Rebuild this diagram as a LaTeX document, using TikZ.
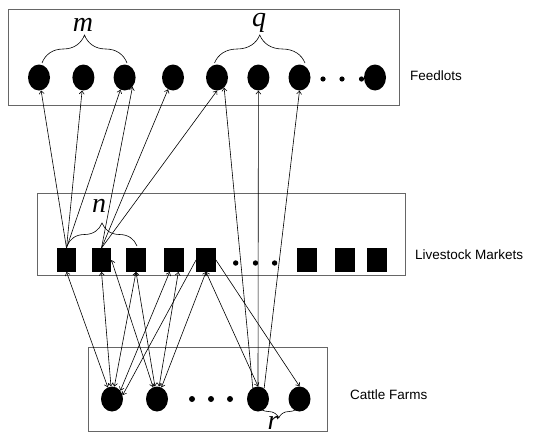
\documentclass[tikz,border=0pt]{standalone}
\usepackage{fontspec}
\setmainfont{Liberation Sans}
\newfontfamily\lserif{Liberation Serif}
\usetikzlibrary{shapes.geometric,arrows.meta,decorations.pathreplacing}
\begin{document}
\begin{tikzpicture}[x=1pt,y=-1pt,
  feed/.style={ellipse, fill=black, minimum width=22pt, minimum height=26pt, inner sep=0pt},
  farm/.style={ellipse, fill=black, minimum width=22pt, minimum height=25pt, inner sep=0pt},
  mkt/.style={rectangle, fill=black, minimum width=19.5pt, minimum height=23.5pt, inner sep=0pt},
  frame/.style={draw=black!60, line width=0.9pt},
  lbl/.style={font=\fontsize{13.5}{16}\selectfont, anchor=west, inner sep=0pt},
  var/.style={font=\lserif\itshape\fontsize{28}{30}\selectfont, anchor=base, inner sep=0pt},
  tip/.tip={Straight Barb[length=3pt,width=5pt]},
  link/.style={-tip, line width=0.6pt},
  both/.style={tip-tip, line width=0.6pt},
  brc/.style={decorate, decoration={brace, amplitude=#1}, line width=0.6pt}
]
\useasboundingbox (0,0) rectangle (545,436);

% frames
\draw[frame] (8.7,9.3) rectangle (399.7,105.9);
\draw[frame] (37,193.5) rectangle (405,275);
\draw[frame] (88,347) rectangle (327,431.5);

% feedlots
\node[feed] (F1) at (39,77.5) {};
\node[feed] (F2) at (83.4,77.5) {};
\node[feed] (F3) at (124.6,77.5) {};
\node[feed] (F4) at (173,77.5) {};
\node[feed] (F5) at (217,77.5) {};
\node[feed] (F6) at (258.4,77.5) {};
\node[feed] (F7) at (299.5,77.5) {};
\node[feed] (F8) at (375,77.5) {};
\fill (323,79) circle[radius=2.6pt];
\fill (342,79) circle[radius=2.6pt];
\fill (361.5,79) circle[radius=2.6pt];

% markets
\node[mkt] (M1) at (66.5,260) {};
\node[mkt] (M2) at (101.5,260) {};
\node[mkt] (M3) at (136,260) {};
\node[mkt] (M4) at (174,260) {};
\node[mkt] (M5) at (206,260) {};
\node[mkt] (M6) at (307,260) {};
\node[mkt] (M7) at (345,260) {};
\node[mkt] (M8) at (377,260) {};
\fill (235.7,263) circle[radius=2.7pt];
\fill (255.5,263) circle[radius=2.7pt];
\fill (274.6,263) circle[radius=2.7pt];

% farms
\node[farm] (C1) at (112,399) {};
\node[farm] (C2) at (157,399) {};
\node[farm] (C3) at (258,399) {};
\node[farm] (C4) at (299.5,399) {};
\fill (192,399) circle[radius=3pt];
\fill (211,399) circle[radius=3pt];
\fill (230,399) circle[radius=3pt];

% labels
\node[lbl] (tF) at (410,76) {Feedlots};
\node[lbl] (tM) at (415,254.5) {Livestock Markets};
\node[lbl] (tC) at (350,395) {Cattle Farms};

% braces
\draw[brc=28pt] (42,63) -- (127,63);
\node[var] (lm) at (83,31.5) {m};
\draw[brc=28pt] (214.5,63) -- (305,63);
\node[var] (lq) at (259,27) {q};
\draw[brc=23pt] (67,246) -- (137,246);
\node[var] (ln) at (99,212) {n};
\draw[brc=13pt] (299.5,405) -- (258,405);
\node[var] (lr) at (273,429) {r};

% markets -> feedlots
\draw[link] (M1.north) -- (F1);
\draw[link] (M1.north) -- (F2);
\draw[link] (M1.north) -- (F3);
\draw[link] (M2.north) -- (F3.-50);
\draw[link] (M2.north) -- (F4);
\draw[link] (M2.north) -- (F5.south);

% farm -> feedlots
\draw[link] (C3.115) -- (F5.-55);
\draw[link] (C3.north) -- (F6.south);
\draw[link] (C3.60) -- (F7.south);

% markets <-> farms
\draw[both] (M1.south) -- (C1);
\draw[both] (M2.south) -- (C1);
\draw[both] (M2.east) -- (C2);
\draw[both] (M3.south) -- (C1);
\draw[both] (M3.south) -- (C2);
\draw[both] (M4.250) -- (C1.45);
\draw[both] (M4.290) -- (C2);
\draw[link] (M5.west) -- (C1.20);
\draw[both] (M5.south) -- (C2);
\draw[both] (M5.south) -- (C3.north);
\draw[link] (M5.east) -- (C4.north);
\end{tikzpicture}
\end{document}
